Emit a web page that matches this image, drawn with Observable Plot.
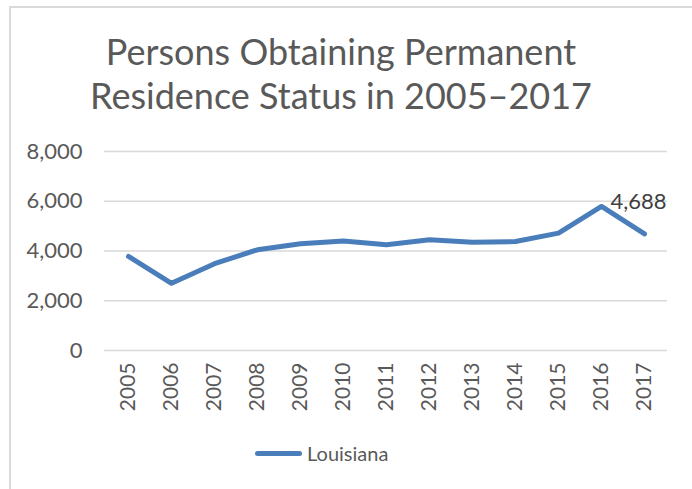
<!DOCTYPE html>
<html>
<head>
<meta charset="utf-8">
<script src="https://cdn.jsdelivr.net/npm/d3@7"></script>
<script src="https://cdn.jsdelivr.net/npm/@observablehq/plot@0.6"></script>
<style>
  html, body { margin: 0; padding: 0; background: #fff; width: 692px; height: 489px; overflow: hidden; }
  body { position: relative; font-family: Lato, "Open Sans", sans-serif; color: #595959; }
  #frame { position: absolute; left: 9px; top: 6px; width: 720px; height: 520px; border: 2px solid #d9d9d9; box-sizing: border-box; }
  #title { position: absolute; left: 0; width: 682px; top: 29px; text-align: center; font-size: 36px; line-height: 44px; color: #595959; }
  #chart { position: absolute; left: 0; top: 0; }
  #legend { position: absolute; left: 255px; top: 441px; display: flex; align-items: center; font-size: 20px; color: #595959; }
  #legend .sw { width: 47px; height: 5px; border-radius: 3px; background: #4a7ebb; margin-right: 5px; }
</style>
</head>
<body>
<div id="frame"></div>
<div id="title">Persons Obtaining Permanent<br>Residence Status in 2005–2017</div>
<div id="chart"></div>
<div id="legend"><span class="sw"></span><span>Louisiana</span></div>
<script>
const years = ["2005","2006","2007","2008","2009","2010","2011","2012","2013","2014","2015","2016","2017"];
const louisiana = [3780, 2700, 3490, 4050, 4290, 4400, 4250, 4450, 4350, 4380, 4720, 5790, 4688];
const yTicks = [0, 2000, 4000, 6000, 8000];
const seriesName = "Louisiana";

const data = years.map((y, i) => ({year: y, value: louisiana[i]}));
const last = data[data.length - 1];

const plot = Plot.plot({
  width: 692,
  height: 489,
  marginTop: 151,
  marginBottom: 139,
  marginLeft: 104,
  marginRight: 25,
  style: {fontFamily: "Lato, 'Open Sans', sans-serif", fontSize: "21px", color: "#595959", background: "transparent"},
  x: {type: "point", domain: years, padding: 0.5, label: null},
  y: {domain: [0, 8000], label: null},
  marks: [
    Plot.gridY(yTicks, {stroke: "#d9d9d9", strokeOpacity: 1, strokeWidth: 1.5}),
    Plot.axisY({ticks: yTicks, tickSize: 0, tickPadding: 22, tickFormat: d3.format(","), fill: "#595959", fontSize: 22}),
    Plot.axisX({tickSize: 0, tickRotate: -90, tickPadding: 12, fill: "#595959", fontSize: 21}),
    Plot.line(data, {x: "year", y: "value", stroke: "#4a7ebb", strokeWidth: 5, strokeLinecap: "round", strokeLinejoin: "round"}),
    Plot.text([last], {x: "year", y: "value", text: d => d3.format(",")(d.value), dy: -32, dx: -6, fill: "#404040", fontSize: 22})
  ]
});
document.getElementById("chart").appendChild(plot);
</script>
</body>
</html>
